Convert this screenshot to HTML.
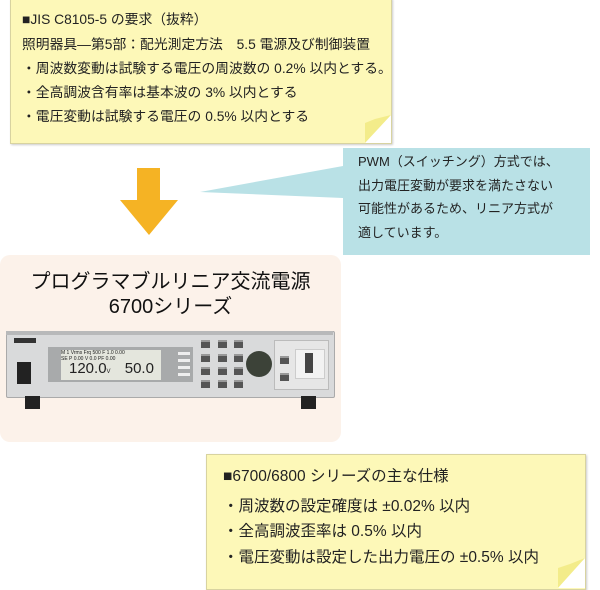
<!DOCTYPE html>
<html><head><meta charset="utf-8"><style>
body{margin:0;width:600px;height:587px;background:#fff;position:relative;overflow:hidden;font-family:"Liberation Sans","Noto Sans CJK JP",sans-serif;color:#222}
.a{position:absolute}
.note{background:#fdf8b8;border:1px solid #d8d3a0;box-shadow:1px 1px 2px #ccc}
.t{position:absolute;font-size:13px;white-space:nowrap;line-height:16px}
.btn{position:absolute;width:9px;height:6px;background:#555;border-top:2px solid #999}
</style></head><body>
<div class="a note" style="left:10px;top:-2px;width:380px;height:144px"></div>
<svg class="a" style="left:365px;top:115px" width="26" height="28"><polygon points="26,0 26,2 4,28 0,28 0,8 10,4" fill="#f3ec8a"/><polygon points="26,0 0,28 26,28" fill="#fff"/></svg>
<div class="t" style="left:22px;top:12px;font-size:13.8px">■JIS C8105-5 の要求（抜粋）</div>
<div class="t" style="left:22px;top:37px;font-size:13.8px">照明器具—第5部：配光測定方法　5.5 電源及び制御装置</div>
<div class="t" style="left:22px;top:61px;font-size:13.8px">・周波数変動は試験する電圧の周波数の 0.2% 以内とする。</div>
<div class="t" style="left:22px;top:85px;font-size:13.8px">・全高調波含有率は基本波の 3% 以内とする</div>
<div class="t" style="left:22px;top:109px;font-size:13.8px">・電圧変動は試験する電圧の 0.5% 以内とする</div>

<svg class="a" style="left:0;top:140px" width="600" height="120">
<polygon points="343,26 200,52 343,58" fill="#b9e1e6"/>
<rect x="343" y="8" width="247" height="107" fill="#b9e1e6"/>
<polygon points="137,28 160,28 160,60 178,60 149,95 120,60 137,60" fill="#f5b324"/>
</svg>
<div class="t" style="left:358px;top:154px">PWM（スイッチング）方式では、</div>
<div class="t" style="left:358px;top:178px">出力電圧変動が要求を満たさない</div>
<div class="t" style="left:358px;top:201px">可能性があるため、リニア方式が</div>
<div class="t" style="left:358px;top:225px">適しています。</div>

<div class="a" style="left:0;top:255px;width:341px;height:187px;background:#fcf2ea;border-radius:10px"></div>
<div class="a" style="left:0;top:270px;width:341px;text-align:center;font-size:20px;line-height:25px;color:#111">プログラマブルリニア交流電源<br>6700シリーズ</div>

<div class="a" style="left:6px;top:331px;width:327px;height:65px;background:#d9dadb;border:1px solid #aaa;border-radius:2px"></div>
<div class="a" style="left:6px;top:331px;width:327px;height:4px;background:#b8b9ba"></div>
<div class="a" style="left:14px;top:338px;width:22px;height:5px;background:#333"></div>
<div class="a" style="left:17px;top:362px;width:14px;height:22px;background:#222"></div>
<div class="a" style="left:48px;top:347px;width:145px;height:35px;background:#a8aaab"></div>
<div class="a" style="left:61px;top:350px;width:100px;height:30px;background:#e4e6dd;font-family:'Liberation Sans',sans-serif;font-size:15px;line-height:14px;color:#222"><span style="font-size:5px;line-height:6px;display:block">M 1 Vrms Frq 500 F 1.0 0.00<br>SE P 0.00 V 0.0 PF 0.00</span><span style="margin-left:8px">120.0</span><span style="font-size:6px">V</span>  <span style="margin-left:10px">50.0</span></div>
<div class="a" style="left:178px;top:352px;width:12px;height:3px;background:#eee"></div>
<div class="a" style="left:178px;top:359px;width:12px;height:3px;background:#eee"></div>
<div class="a" style="left:178px;top:366px;width:12px;height:3px;background:#eee"></div>
<div class="a" style="left:178px;top:373px;width:12px;height:3px;background:#eee"></div>
<div class="btn" style="left:201px;top:340px"></div><div class="btn" style="left:218px;top:340px"></div><div class="btn" style="left:234px;top:340px"></div>
<div class="btn" style="left:201px;top:354px"></div><div class="btn" style="left:218px;top:354px"></div><div class="btn" style="left:234px;top:354px"></div>
<div class="btn" style="left:201px;top:367px"></div><div class="btn" style="left:218px;top:367px"></div><div class="btn" style="left:234px;top:367px"></div>
<div class="btn" style="left:201px;top:380px"></div><div class="btn" style="left:218px;top:380px"></div><div class="btn" style="left:234px;top:380px"></div>
<div class="a" style="left:246px;top:351px;width:26px;height:26px;border-radius:50%;background:#3c4238"></div>
<div class="a" style="left:274px;top:340px;width:53px;height:48px;background:#e6e6e6;border:1px solid #bbb"></div>
<div class="a" style="left:295px;top:349px;width:28px;height:28px;background:#f2f2f2;border:1px solid #ccc"></div>
<div class="a" style="left:305px;top:353px;width:8px;height:20px;background:#444"></div>
<div class="btn" style="left:280px;top:356px"></div><div class="btn" style="left:280px;top:373px"></div>
<div class="a" style="left:25px;top:396px;width:15px;height:13px;background:#222"></div>
<div class="a" style="left:301px;top:396px;width:15px;height:13px;background:#222"></div>

<div class="a note" style="left:206px;top:454px;width:378px;height:134px"></div>
<svg class="a" style="left:558px;top:558px" width="27" height="30"><polygon points="27,0 0,30 0,10 12,6" fill="#f3ec8a"/><polygon points="27,0 0,30 27,30" fill="#fff"/></svg>
<div class="t" style="left:223px;top:468px;font-size:15.5px;line-height:18px">■6700/6800 シリーズの主な仕様</div>
<div class="t" style="left:223px;top:498px;font-size:15.5px;line-height:18px">・周波数の設定確度は ±0.02% 以内</div>
<div class="t" style="left:223px;top:523px;font-size:15.5px;line-height:18px">・全高調波歪率は 0.5% 以内</div>
<div class="t" style="left:223px;top:549px;font-size:15.5px;line-height:18px">・電圧変動は設定した出力電圧の ±0.5% 以内</div>
</body></html>
